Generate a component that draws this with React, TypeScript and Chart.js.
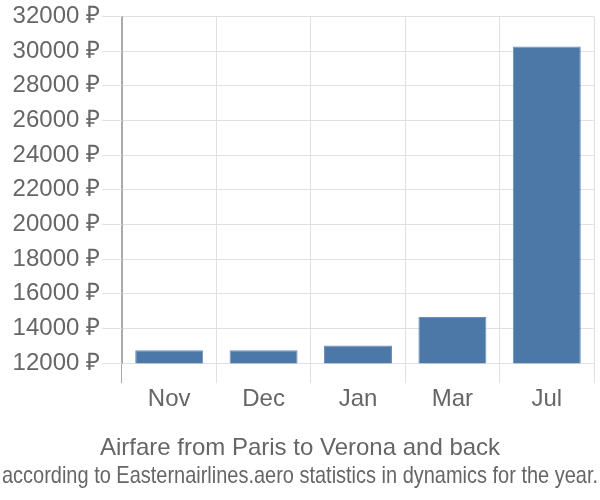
import React, { useEffect, useRef } from "react";
import { Chart, registerables } from "chart.js";

Chart.register(...registerables);

const categories = ["Nov", "Dec", "Jan", "Mar", "Jul"];
const prices = [12740, 12740, 13020, 14660, 30260];
const yMin = 12000;
const yMax = 32000;
const yStep = 2000;
const titleText = "Airfare from Paris to Verona and back";
const subtitleText = "according to Easternairlines.aero statistics in dynamics for the year.";

export default function App() {
  const ref = useRef<HTMLCanvasElement | null>(null);
  useEffect(() => {
    if (!ref.current) return;
    const font = "'Liberation Sans', Arial, sans-serif";
    const chart = new Chart(ref.current, {
      type: "bar",
      data: {
        labels: categories,
        datasets: [
          {
            data: prices,
            backgroundColor: "#4c78a8",
            borderColor: "#6a8fb8",
            borderWidth: 1,
          },
        ],
      },
      options: {
        animation: false,
        responsive: false,
        layout: { padding: { left: 2, right: 2, top: 0, bottom: 12 } },
        plugins: {
          legend: { display: false },
          tooltip: { enabled: false },
          title: {
            display: true,
            text: titleText,
            position: "bottom",
            weight: 1000,
            color: "#666",
            font: { family: font, size: 24, weight: "normal", lineHeight: 1 },
            padding: { top: 20, bottom: 0 },
          } as any,
          subtitle: {
            display: true,
            text: subtitleText,
            position: "bottom",
            weight: 2000,
            color: "#666",
            font: { family: font, size: 24, weight: "normal", lineHeight: 1 },
            padding: { top: 4, bottom: 0 },
          } as any,
        },
        scales: {
          x: {
            grid: {
              color: (c: any) => (c.index === 0 ? "#aaa" : "#e0e0e0"),
              tickLength: 20,
              offset: true,
            },
            border: { color: "#e0e0e0" },
            ticks: { color: "#666", font: { family: font, size: 24 }, padding: 2 },
          },
          y: {
            min: yMin,
            max: yMax,
            grid: { color: "#e0e0e0", tickLength: 20 },
            border: { color: "#aaa" },
            afterFit: (s: any) => {
              s.width = 120;
            },
            ticks: {
              stepSize: yStep,
              autoSkip: false,
              color: "#666",
              font: { family: font, size: 24 },
              padding: 2,
              callback: (v: any) => v + " ₽",
            },
          },
          y2: {
            position: "right",
            display: true,
            grid: { display: false },
            border: { display: false },
            ticks: { display: false },
            afterFit: (s: any) => {
              s.width = 4;
            },
          },
        },
      },
    });
    return () => chart.destroy();
  }, []);
  return (
    <div style={{ position: "fixed", left: 0, top: 0, width: 600, height: 500, background: "#fff" }}>
      <canvas ref={ref} width={600} height={500} />
    </div>
  );
}
